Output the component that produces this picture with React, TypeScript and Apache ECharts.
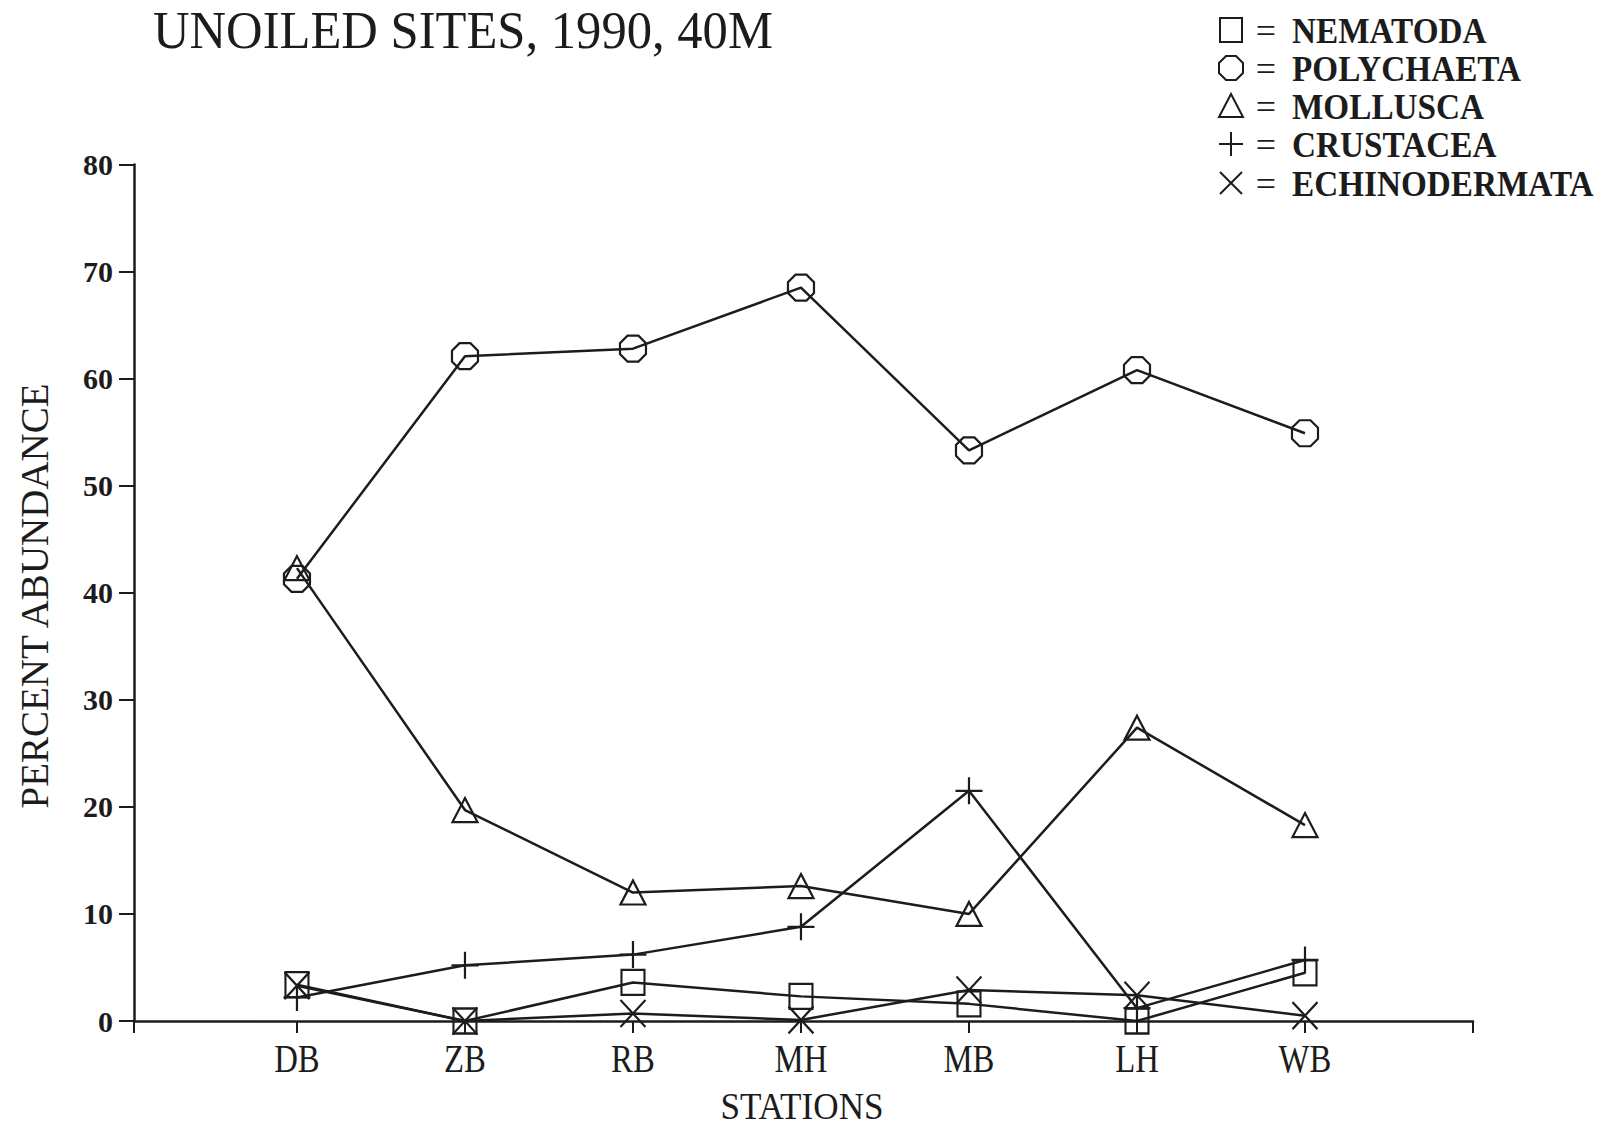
import React, { useEffect, useRef } from "react";
import * as echarts from "echarts";

const stations = ["DB", "ZB", "RB", "MH", "MB", "LH", "WB"];
const stationPos = [1, 2, 3, 4, 5, 6, 7];
const nematoda = [3.4, 0, 3.6, 2.3, 1.6, 0, 4.5];
const polychaeta = [41.3, 62.1, 62.8, 68.5, 53.3, 60.8, 54.9];
const mollusca = [42.3, 19.7, 12.0, 12.6, 10.0, 27.4, 18.3];
const crustacea = [2.2, 5.2, 6.2, 8.8, 21.5, 1.2, 5.7];
const echinodermata = [3.3, 0, 0.7, 0.1, 2.9, 2.4, 0.5];
const legendNames = ["NEMATODA", "POLYCHAETA", "MOLLUSCA", "CRUSTACEA", "ECHINODERMATA"];
const titleText = "UNOILED SITES, 1990, 40M";
const yName = "PERCENT ABUNDANCE";
const xName = "STATIONS";
const xMin = 0.03;
const xMax = 8;
const xTickValues = [xMin, 1, 2, 3, 4, 5, 6, 7, 8];

const INK = "#1c1c1c";
const OCT = "path://M29,0 L71,0 L100,29 L100,71 L71,100 L29,100 L0,71 L0,29 Z";
const PLUS = "path://M50,0 L50,100 M0,50 L100,50";
const CROSS = "path://M0,0 L100,100 M100,0 L0,100";

function mk(name: string, vals: number[], symbol: string, size: any) {
  return {
    name,
    type: "line",
    data: vals.map((v, i) => [stationPos[i], v]),
    symbol,
    symbolSize: size,
    showSymbol: true,
    lineStyle: { color: INK, width: 2.5 },
    itemStyle: { color: "none", borderColor: INK, borderWidth: 2.2 },
    emphasis: { disabled: true },
  };
}

export default function App() {
  const ref = useRef<HTMLDivElement>(null);
  useEffect(() => {
    document.body.style.margin = "0";
    const chart = echarts.init(ref.current!, null, { renderer: "svg" });
    const rowsY = [30, 68, 106, 144, 183];
    const sx = 1231;
    const legendGraphics: any[] = [];
    rowsY.forEach((y, i) => {
      const st = { fill: "none", stroke: INK, lineWidth: 2 };
      if (i === 0) legendGraphics.push({ type: "rect", shape: { x: sx - 11, y: y - 12, width: 22, height: 24 }, style: st });
      if (i === 1) {
        const r = 12, a = 0.414 * r;
        legendGraphics.push({
          type: "polygon",
          shape: { points: [[sx - a, y - r], [sx + a, y - r], [sx + r, y - a], [sx + r, y + a], [sx + a, y + r], [sx - a, y + r], [sx - r, y + a], [sx - r, y - a]] },
          style: st,
        });
      }
      if (i === 2) legendGraphics.push({ type: "polygon", shape: { points: [[sx, y - 12], [sx + 12, y + 11], [sx - 12, y + 11]] }, style: st });
      if (i === 3) {
        legendGraphics.push({ type: "line", shape: { x1: sx - 12, y1: y, x2: sx + 12, y2: y }, style: st });
        legendGraphics.push({ type: "line", shape: { x1: sx, y1: y - 12, x2: sx, y2: y + 12 }, style: st });
      }
      if (i === 4) {
        legendGraphics.push({ type: "line", shape: { x1: sx - 11, y1: y - 11, x2: sx + 11, y2: y + 11 }, style: st });
        legendGraphics.push({ type: "line", shape: { x1: sx + 11, y1: y - 11, x2: sx - 11, y2: y + 11 }, style: st });
      }
      legendGraphics.push({
        type: "text", x: 1266, y: y + 1,
        style: { text: "=", font: '36px "Liberation Serif"', fill: INK, textAlign: "center", textVerticalAlign: "middle" },
      });
      legendGraphics.push({
        type: "text", x: 1292, y: y + 1, scaleX: 0.95,
        style: { text: legendNames[i], font: 'bold 35px "Liberation Serif"', fill: INK, textAlign: "left", textVerticalAlign: "middle" },
      });
    });

    const baseOption: any = {
      animation: false,
      backgroundColor: "#ffffff",
      grid: { left: 134, right: 139, top: 164.5, bottom: 108 },
      xAxis: {
        type: "value", min: xMin, max: xMax,
        axisLine: { show: true, onZero: false, lineStyle: { color: INK, width: 2.5 } },
        axisTick: { show: true, inside: false, length: 12, customValues: xTickValues, lineStyle: { color: INK, width: 2 } },
        splitLine: { show: false },
        axisLabel: { show: false },
      },
      yAxis: {
        type: "value", min: 0, max: 80, interval: 10,
        axisLine: { show: true, lineStyle: { color: INK, width: 2.5 } },
        axisTick: { show: true, inside: false, length: 15, lineStyle: { color: INK, width: 2 } },
        splitLine: { show: false },
        axisLabel: { margin: 21, fontFamily: "Liberation Serif", fontWeight: "bold", fontSize: 30, color: INK },
      },
      series: [
        mk("NEMATODA", nematoda, "rect", [23, 25]),
        mk("POLYCHAETA", polychaeta, OCT, 26),
        mk("MOLLUSCA", mollusca, "triangle", [25, 24]),
        mk("CRUSTACEA", crustacea, PLUS, 27),
        mk("ECHINODERMATA", echinodermata, CROSS, [25, 27]),
      ],
      graphic: [
        {
          type: "text", x: 153, y: 30, scaleX: 0.955,
          style: { text: titleText, font: '53px "Liberation Serif"', fill: INK, textAlign: "left", textVerticalAlign: "middle" },
        },
        {
          type: "text", x: 34, y: 596, rotation: Math.PI / 2,
          style: { text: yName, font: '39px "Liberation Serif"', fill: INK, textAlign: "center", textVerticalAlign: "middle" },
        },
        {
          type: "text", x: 802, y: 1107, scaleX: 0.95,
          style: { text: xName, font: '37px "Liberation Serif"', fill: INK, textAlign: "center", textVerticalAlign: "middle" },
        },
        ...legendGraphics,
      ],
    };
    chart.setOption(baseOption);

    // category labels placed through the x axis scale
    const catLabels = stations.map((s, i) => {
      const px = chart.convertToPixel({ xAxisIndex: 0 }, stationPos[i]) as number;
      return {
        type: "text", x: px, y: 1058, scaleX: 0.82,
        style: { text: s, font: '40px "Liberation Serif"', fill: INK, textAlign: "center", textVerticalAlign: "middle" },
      };
    });
    chart.setOption({ graphic: [...baseOption.graphic, ...catLabels] });
    return () => chart.dispose();
  }, []);
  return <div ref={ref} style={{ width: 1612, height: 1129 }} />;
}
